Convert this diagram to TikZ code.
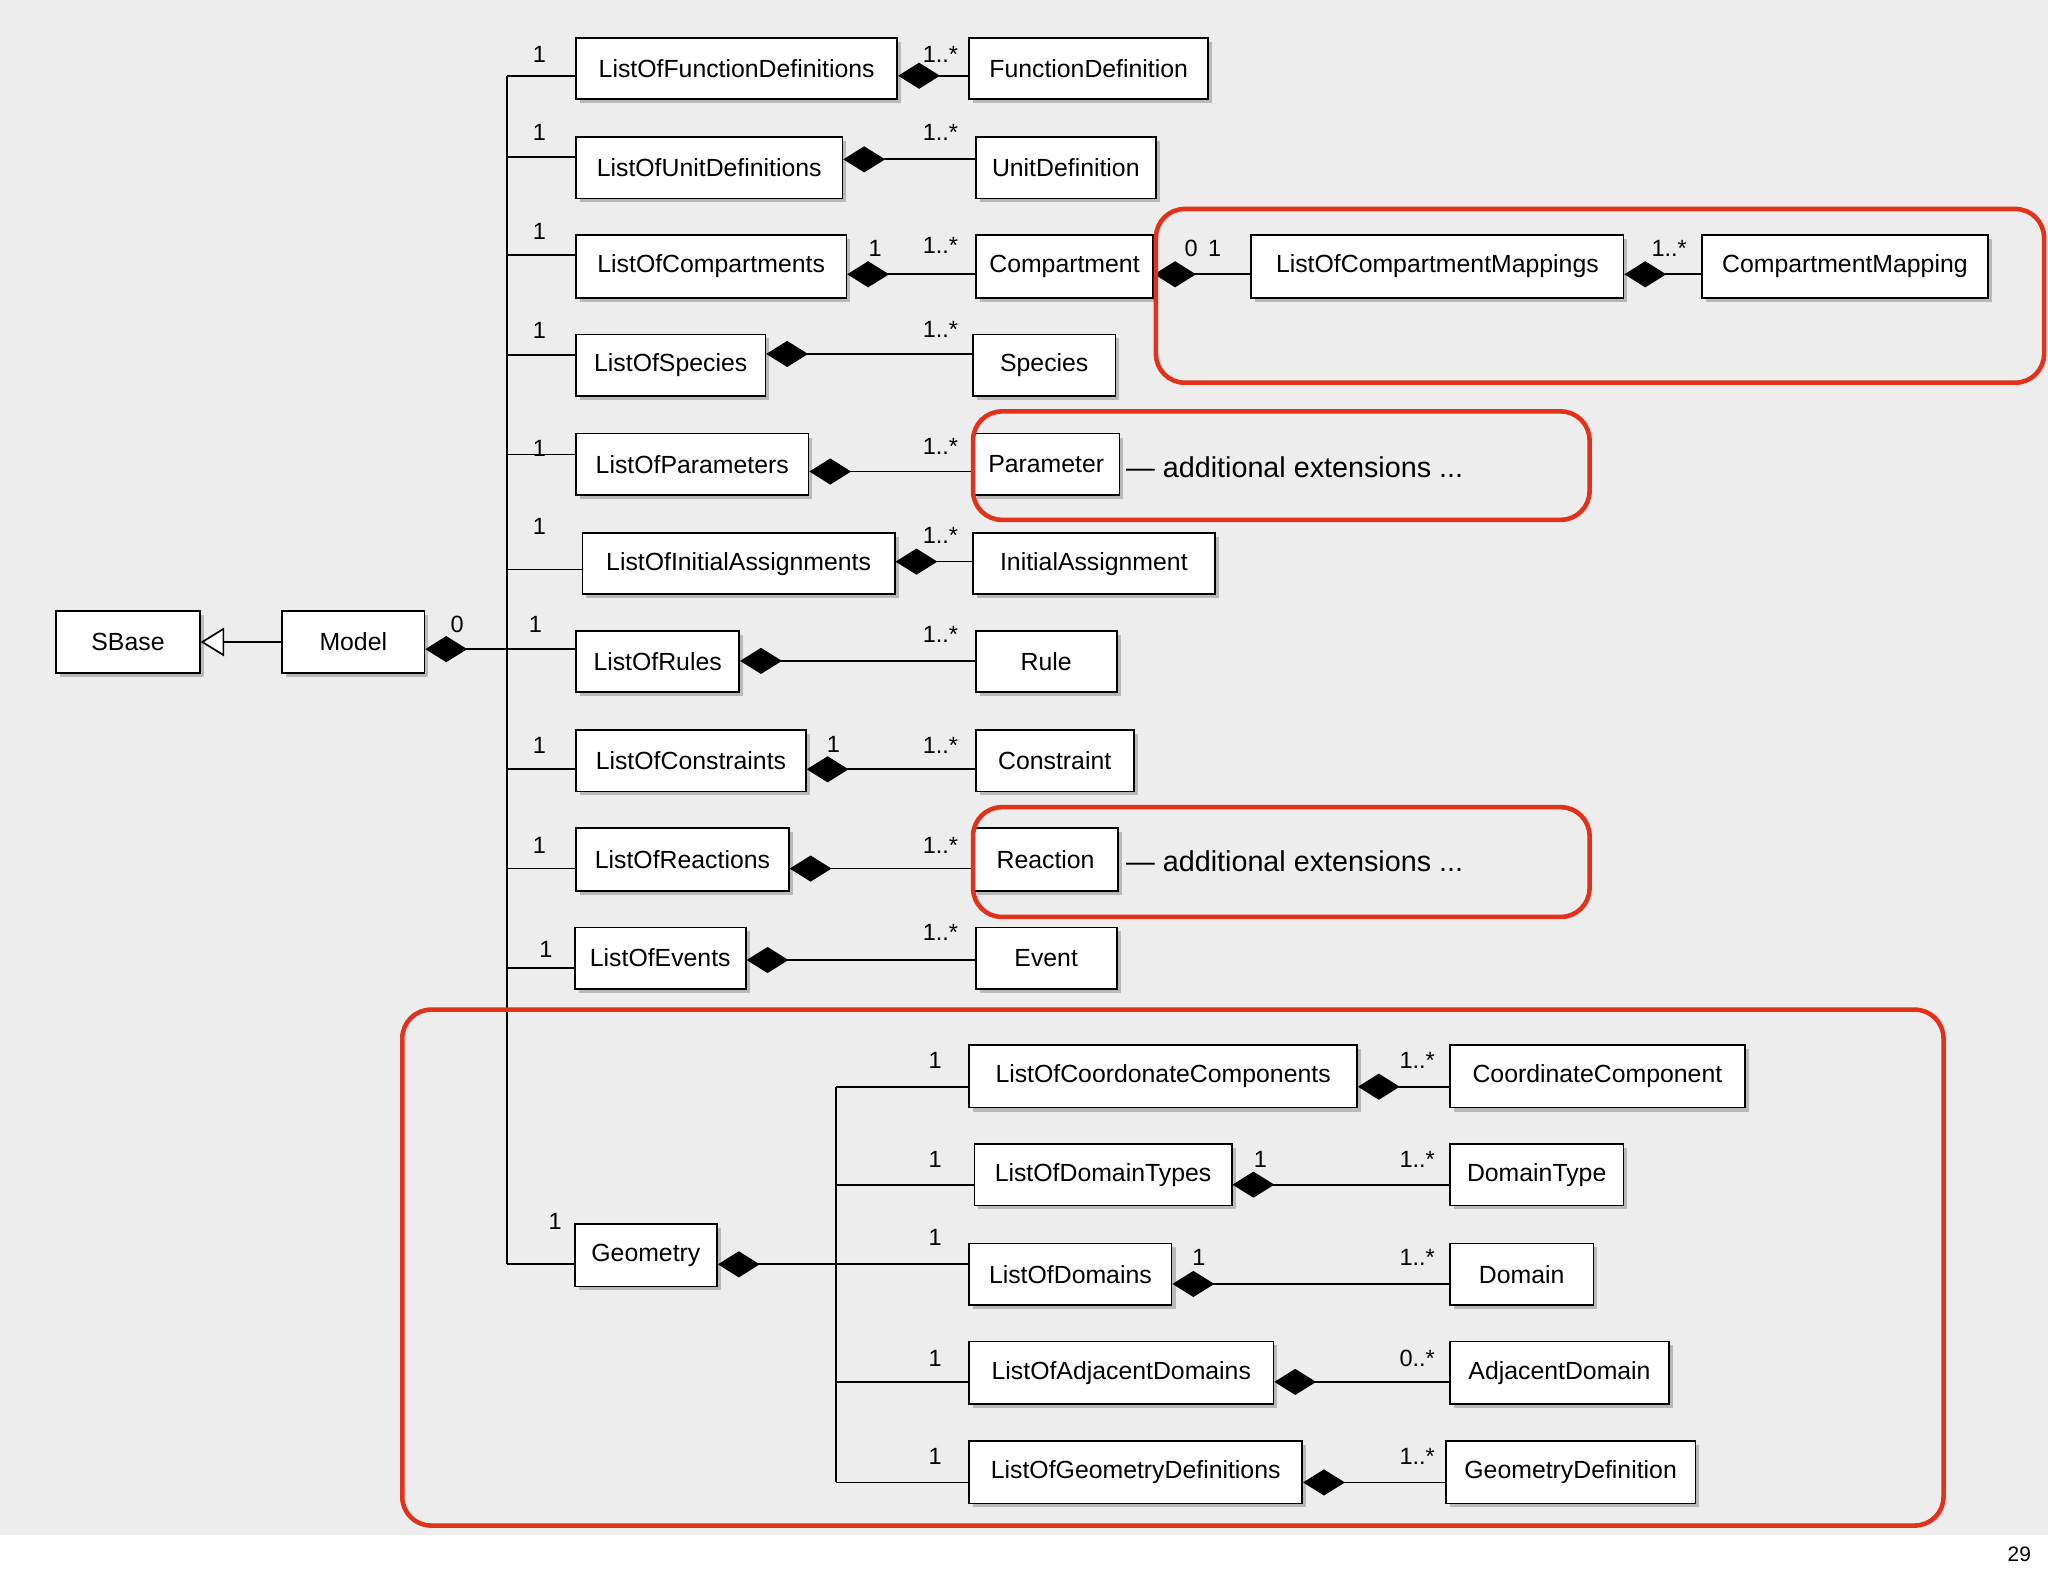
\documentclass[tikz,border=0pt]{standalone}
\usepackage{fontspec}
\setmainfont{Liberation Sans}
\usetikzlibrary{arrows.meta,shadows}
\newcommand{\cls}[6]{\node[cls,minimum width={#3-#2},minimum height={#5-#4}] (#1) at ({(#2+#3)/2},{(#4+#5)/2}) {#6};}
\definecolor{hl}{RGB}{226,50,28}
\begin{document}
\begin{tikzpicture}[x=1pt,y=-1pt,
 cls/.style={draw,line width=1.3pt,fill=white,inner sep=0pt,font=\fontsize{19}{20}\selectfont,
   drop shadow={shadow xshift=3pt,shadow yshift=-3pt,fill=gray!55,opacity=1}},
 comp/.style={line width=1.3pt,-{Diamond[length=32pt,width=20pt]}},
 gen/.style={line width=1.3pt,-{Triangle[open,length=18pt,width=22pt,fill=white]}},
 tr/.style={line width=1.3pt},
 lab/.style={font=\fontsize{18}{18}\selectfont,inner sep=0pt},
 red/.style={draw=hl,line width=3.5pt,rounded corners=22pt},
 ext/.style={font=\fontsize{22}{22}\selectfont,anchor=west,inner sep=0pt}]
\useasboundingbox (0,0) rectangle (1568,1207);
\fill[gray!14] (0,0) rectangle (1568,1175);
\node[font=\fontsize{16}{16}\selectfont] (pg) at (1546,1190) {29};
% classes
\cls{sb}{43}{153}{468}{515}{SBase}
\cls{md}{216}{325}{468}{515}{Model}
\cls{lfd}{441}{687}{29}{76}{ListOfFunctionDefinitions}
\cls{fd}{742}{925}{29}{76}{FunctionDefinition}
\cls{lud}{441}{645}{105}{152}{ListOfUnitDefinitions}
\cls{ud}{747}{885}{105}{152}{UnitDefinition}
\cls{lc}{441}{648}{180}{228}{ListOfCompartments}
\cls{c}{747}{883}{180}{228}{Compartment}
\cls{lcm}{958}{1243}{180}{228}{ListOfCompartmentMappings}
\cls{cm}{1303}{1522}{180}{228}{CompartmentMapping}
\cls{ls}{441}{586}{256}{303}{ListOfSpecies}
\cls{s}{745}{854}{256}{303}{Species}
\cls{lp}{441}{619}{332}{379}{ListOfParameters}
\cls{p}{745}{857}{332}{379}{Parameter}
\cls{lia}{446}{685}{408}{455}{ListOfInitialAssignments}
\cls{ia}{745}{930}{408}{455}{InitialAssignment}
\cls{lr}{441}{566}{483}{530}{ListOfRules}
\cls{r}{747}{855}{483}{530}{Rule}
\cls{lco}{441}{617}{559}{606}{ListOfConstraints}
\cls{co}{747}{868}{559}{606}{Constraint}
\cls{lre}{441}{604}{634}{682}{ListOfReactions}
\cls{re}{745}{856}{634}{682}{Reaction}
\cls{le}{440}{571}{710}{757}{ListOfEvents}
\cls{e}{747}{855}{710}{757}{Event}
\cls{g}{440}{549}{937}{985}{Geometry}
\cls{lcc}{742}{1039}{800}{848}{ListOfCoordonateComponents}
\cls{cc}{1110}{1336}{800}{848}{CoordinateComponent}
\cls{ldt}{746}{943}{876}{923}{ListOfDomainTypes}
\cls{dt}{1110}{1243}{876}{923}{DomainType}
\cls{ld}{742}{897}{952}{999}{ListOfDomains}
\cls{d}{1110}{1220}{952}{999}{Domain}
\cls{lad}{742}{975}{1027}{1075}{ListOfAdjacentDomains}
\cls{ad}{1110}{1278}{1027}{1075}{AdjacentDomain}
\cls{lgd}{742}{997}{1103}{1151}{ListOfGeometryDefinitions}
\cls{gd}{1107}{1298}{1103}{1151}{GeometryDefinition}
% trunks
\coordinate (t0) at (388,58);
\coordinate (t1) at (388,968);
\draw[tr] (t0) -- (t1);
\coordinate (u0) at (640,832);
\coordinate (u1) at (640,1135);
\draw[tr] (u0) -- (u1);
\draw[gen] (md) -- (sb);
\draw[tr,{Diamond[length=32pt,width=20pt]}-] (md.east |- 0,497) -- (388,497);
\draw[tr,{Diamond[length=32pt,width=20pt]}-] (g.east |- 0,968) -- (640,968);
\foreach \n/\y in {lfd/58,lud/120,lc/195,ls/272,lp/348,lia/436,lr/497,lco/589,lre/665,le/741,g/968}
  \draw[tr] (388,\y) -- (\n.west |- 0,\y);
\foreach \n/\y in {lcc/832,ldt/907,ld/968,lad/1058,lgd/1135}
  \draw[tr] (640,\y) -- (\n.west |- 0,\y);
% compositions
\foreach \c/\l/\y in {fd/lfd/58,ud/lud/122,c/lc/210,s/ls/271,p/lp/361,ia/lia/430,r/lr/506,co/lco/589,re/lre/665,e/le/735,cm/lcm/210,cc/lcc/832,dt/ldt/907,d/ld/983,ad/lad/1058,gd/lgd/1135}
  \draw[comp] (\c.west |- 0,\y) -- (\l.east |- 0,\y);
\draw[comp] (lcm.west |- 0,210) -- (c.east |- 0,210);
% labels
\foreach \y in {42,101,177,253,343,403,571,647}
  \node[lab] at (413,\y) {1};
\node[lab] at (410,478) {1};
\node[lab] at (418,727) {1};
\node[lab] at (425,935) {1};
\foreach \y in {42,101,188,252,342,410,486,571,647,714}
  \node[lab] at (720,\y) {1..*};
\node[lab] at (350,478) {0};
\node[lab] at (670,190) {1};
\node[lab] at (638,570) {1};
\node[lab] at (912,190) {0};
\node[lab] at (930,190) {1};
\node[lab] at (1278,190) {1..*};
\foreach \y in {812,888,947,1040,1115} \node[lab] at (716,\y) {1};
\node[lab] at (965,888) {1};
\node[lab] at (918,963) {1};
\foreach \y/\t in {812/1..*,888/1..*,963/1..*,1040/0..*,1115/1..*} \node[lab] at (1085,\y) {\t};
% highlights
\draw[red] (885,160) rectangle (1565,293);
\draw[red] (745,315) rectangle (1217,398);
\draw[red] (745,618) rectangle (1217,702);
\draw[red] (308,773) rectangle (1488,1168);
\node[ext] (x1) at (862,358) {— additional extensions ...};
\node[ext] (x2) at (862,659) {— additional extensions ...};
\end{tikzpicture}
\end{document}
